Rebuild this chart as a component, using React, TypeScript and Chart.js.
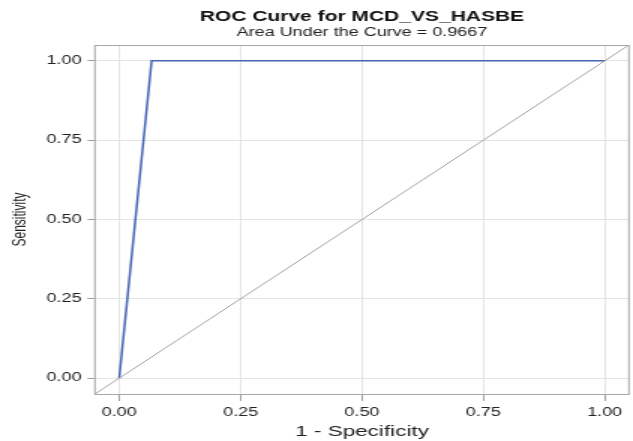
import React, { useEffect, useRef } from "react";
import { Chart, registerables } from "chart.js";

Chart.register(...registerables);

const rocX = [0, 0.0667, 1];
const rocY = [0, 1, 1];
const diagX = [-0.05, 1.05];
const diagY = [-0.05, 1.05];
const tickValues = [0, 0.25, 0.5, 0.75, 1];
const titleText = "ROC Curve for MCD_VS_HASBE";
const subtitleText = "Area Under the Curve = 0.9667";
const xTitle = "1 - Specificity";
const yTitle = "Sensitivity";

// The reference image is horizontally stretched; render narrower and stretch.
const STRETCH = 1.5;
const W = 633 / STRETCH;
const H = 441;

const frame = {
  id: "frame",
  afterDatasetsDraw(chart: any) {
    const { ctx, chartArea: a } = chart;
    ctx.save();
    ctx.strokeStyle = "#A8A8A8";
    ctx.lineWidth = 1;
    ctx.strokeRect(a.left, Math.round(a.top) + 0.5, a.right - a.left, Math.round(a.bottom - a.top));
    ctx.restore();
  },
};

export default function App() {
  const ref = useRef<HTMLCanvasElement>(null);
  useEffect(() => {
    document.body.style.margin = "0";
    const tickFont = { family: "Liberation Sans", size: 12 };
    const fixTicks = (s: any) => {
      s.ticks = tickValues.map((v) => ({ value: v }));
    };
    const chart = new Chart(ref.current!, {
      type: "scatter",
      data: {
        datasets: [
          {
            data: diagX.map((x, i) => ({ x, y: diagY[i] })),
            showLine: true,
            borderColor: "#A0A0A0",
            borderWidth: 1,
            pointRadius: 0,
          },
          {
            data: rocX.map((x, i) => ({ x, y: rocY[i] })),
            showLine: true,
            borderColor: "#4565B5",
            borderWidth: 1.5,
            pointRadius: 0,
          },
        ],
      },
      options: {
        animation: false,
        responsive: false,
        devicePixelRatio: 1,
        layout: { padding: { left: 6, right: 2.7, top: 0, bottom: 0 } },
        plugins: {
          legend: { display: false },
          tooltip: { enabled: false },
          title: {
            display: true,
            text: titleText,
            fullSize: false,
            color: "#111",
            font: { family: "Liberation Sans", size: 14, weight: "bold", lineHeight: 1 },
            padding: { top: 10, bottom: 0 },
          },
          subtitle: {
            display: true,
            text: subtitleText,
            fullSize: false,
            color: "#222",
            font: { family: "Liberation Sans", size: 12, lineHeight: 1 },
            padding: { top: 2.5, bottom: 6.5 },
          },
        },
        scales: {
          x: {
            type: "linear",
            min: -0.05,
            max: 1.05,
            afterBuildTicks: fixTicks,
            afterFit: (s: any) => {
              s.height = 47;
            },
            grid: { color: "#E4E4E4", tickColor: "#A0A0A0", tickLength: 7 },
            border: { display: false },
            ticks: {
              color: "#222",
              font: tickFont,
              padding: 4,
              maxRotation: 0,
              callback: (v: any) => Number(v).toFixed(2),
            },
            title: {
              display: true,
              text: xTitle,
              color: "#222",
              font: { family: "Liberation Sans", size: 15 },
              padding: { top: 0, bottom: 0 },
            },
          },
          y: {
            type: "linear",
            min: -0.05,
            max: 1.05,
            afterBuildTicks: fixTicks,
            afterFit: (s: any) => {
              s.width = 57.3;
            },
            grid: { color: "#E4E4E4", tickColor: "#A0A0A0", tickLength: 5 },
            border: { display: false },
            ticks: {
              color: "#222",
              font: tickFont,
              padding: 4,
              callback: (v: any) => Number(v).toFixed(2),
            },
            title: {
              display: true,
              text: yTitle,
              color: "#222",
              font: { family: "Liberation Sans", size: 12 },
              padding: { top: 0, bottom: 0 },
            },
          },
        },
      },
      plugins: [frame],
    } as any);
    return () => chart.destroy();
  }, []);
  return (
    <div style={{ width: 633, height: H, overflow: "hidden" }}>
      <div style={{ width: W, height: H, transform: `scaleX(${STRETCH})`, transformOrigin: "0 0" }}>
        <canvas ref={ref} width={Math.round(W)} height={H} style={{ display: "block" }} />
      </div>
    </div>
  );
}
